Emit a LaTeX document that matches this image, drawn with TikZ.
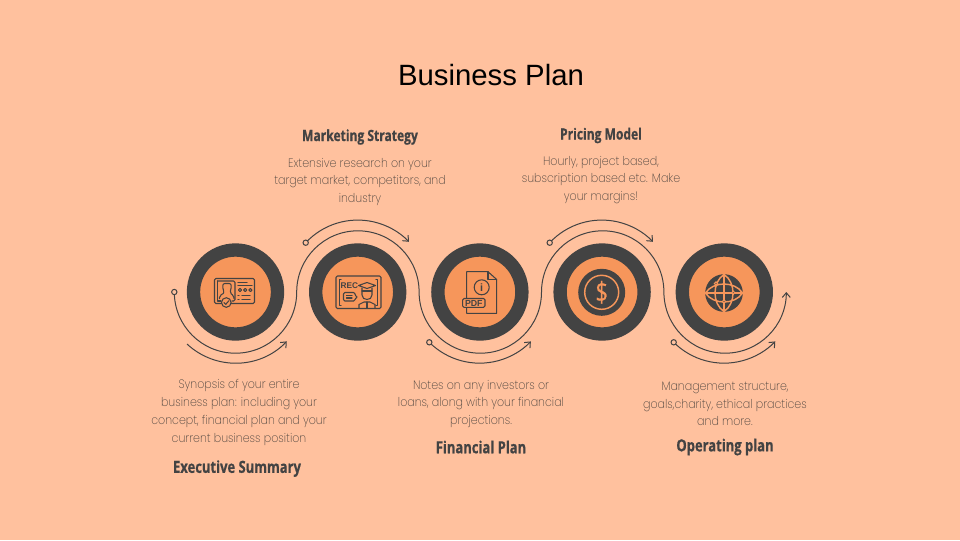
\documentclass[tikz,border=0pt]{standalone}
\usepackage{fontspec}
\setmainfont{Liberation Sans}
\newfontfamily\headfont[FakeStretch=0.78, FakeBold=0.6]{Open Sans}
\newfontfamily\notefont[FakeStretch=0.9]{Poppins ExtraLight}
\usetikzlibrary{arrows.meta, positioning}
\definecolor{peach}{HTML}{FFC19E}
\definecolor{coral}{HTML}{F6965B}
\definecolor{slate}{HTML}{434343}
\definecolor{notegray}{HTML}{4F4640}
\tikzset{x=0.75pt, y=-0.75pt, % one unit is one pixel of the picture, y runs down
  node distance=91.65pt, % Centre to centre of two discs
  stepdisc/.style={ % Dark ring round each step
    circle,
    draw=slate,
    line width=10pt,
    fill=coral,
    inner sep=0pt,
    minimum size=63pt},
  startring/.style={ % Open dot at the start of a line
    circle,
    draw=slate,
    line width=0.75pt,
    fill=peach,
    inner sep=0pt,
    minimum size=4pt},
  flowline/.style={
    draw=slate,
    line width=0.75pt,
    -{Straight Barb[length=3.5pt,width=6pt]}},
  steptitle/.style={text=slate, font=\headfont\bfseries\fontsize{11.6}{14}\selectfont},
  lowtitle/.style={text=slate, font=\headfont\bfseries\fontsize{12.5}{15}\selectfont},
  stepnote/.style={text=notegray, align=center, font=\notefont\fontsize{9.2}{13.3}\selectfont},
  iconline/.style={draw=slate, line width=0.8pt, line join=round, line cap=round},
  globeline/.style={draw=coral, line width=1.1pt},
  globedot/.style={draw=coral, line width=0.8pt, fill=slate}}

\begin{document}
\begin{tikzpicture}
  \fill[peach] (0,0) rectangle (960,540);
  \useasboundingbox (0,0) rectangle (960,540);
  \node[font=\fontsize{22}{26}\selectfont] (title) at (491,75) {Business Plan};

  % Steps
  \node[stepdisc] (c1) at (235.5,292) {};
  \node[stepdisc, right of=c1] (c2) {};
  \node[stepdisc, right of=c2] (c3) {};
  \node[stepdisc, right of=c3] (c4) {};
  \node[stepdisc, right of=c4] (c5) {};

  % Long wave line
  \coordinate (w0) at (174.3,292);
  \draw[flowline] (w0) arc[start angle=180, end angle=360, radius=45.9pt]
    arc[start angle=180, end angle=0, radius=45.9pt]
    arc[start angle=180, end angle=360, radius=45.9pt]
    arc[start angle=180, end angle=0, radius=45.9pt]
    arc[start angle=180, end angle=360, radius=45.9pt];
  \node[startring] (r0) at (w0) {};

  % Short lines
  \coordinate (a1) at (187,344);
  \coordinate (a2) at (305.7,242.7);
  \coordinate (a3) at (429.3,342.3);
  \coordinate (a4) at (549.7,242.7);
  \coordinate (a5) at (673.7,342.3);
  \draw[flowline] (a1) arc[start angle=227, end angle=316, radius=53.4pt];
  \draw[flowline] (a2) arc[start angle=137, end angle=44, radius=53.4pt];
  \draw[flowline] (a3) arc[start angle=225, end angle=316, radius=53.4pt];
  \draw[flowline] (a4) arc[start angle=137, end angle=44, radius=53.4pt];
  \draw[flowline] (a5) arc[start angle=225, end angle=316, radius=53.4pt];
  \node[startring] (r2) at (a2) {};
  \node[startring] (r3) at (a3) {};
  \node[startring] (r4) at (a4) {};
  \node[startring] (r5) at (a5) {};

  % Card icon
  \draw[iconline, rounded corners=1pt] (214.5,278.5) rectangle (254.5,303.5);
  \draw[iconline, rounded corners=1pt] (217.5,281) -- (235,281) -- (235,301) -- (232,301);
  \draw[iconline] (217.5,281) -- (217.5,301) -- (221,301);
  \draw[iconline, rounded corners=1.5pt] (219.5,298.5) -- (219.5,295.5) -- (224.5,293) -- (222.8,289.5)
    -- (222.8,283.5) -- (231.2,283.5) -- (231.2,289.5) -- (229.5,293) -- (234,295.5) -- (234,298.5);
  \draw[iconline, fill=coral] (226.3,302.5) circle (4.8);
  \draw[iconline] (224,302.5) -- (225.8,304.3) -- (228.8,300.8);
  \draw[iconline] (238,282.5) -- (247,282.5) (238,285.7) -- (252,285.7);
  \draw[iconline] (240,290) circle (1.6) (245.2,290) circle (1.6) (250.4,290) circle (1.6);
  \draw[iconline] (238,295.3) -- (239,295.3) (242,295.3) -- (250,295.3);
  \draw[iconline] (238,299.3) -- (239,299.3) (242,299.3) -- (250,299.3);

  % Recording icon
  \draw[iconline, rounded corners=1pt] (336,276) rectangle (381,308.5);
  \draw[iconline] (341,279.5) -- (339.5,279.5) -- (339.5,305.5) -- (341,305.5);
  \draw[iconline] (376,279.5) -- (377.5,279.5) -- (377.5,305.5) -- (376,305.5);
  \node[text=slate, inner sep=0pt, font=\bfseries\fontsize{6.2}{7}\selectfont] (rec) at (349.3,285.3) {REC};
  \draw[iconline, rounded corners=1pt] (343.5,292.5) -- (355,292.5) -- (355,295.5) -- (358,297.5)
    -- (355,298) -- (355,301) -- (343.5,301) -- cycle;
  \draw[iconline] (346.5,295.5) -- (352,295.5) (346.5,298) -- (352,298);
  \draw[iconline, fill=coral] (358.5,285.5) -- (367,282.5) -- (375.5,285.5) -- (367,288.5) -- cycle;
  \draw[iconline] (362,288) -- (362,295) .. controls (362,301) and (372,301) .. (372,295) -- (372,288);
  \draw[iconline] (362,291) -- (372,291);
  \draw[iconline] (359,308) -- (359,304.5) -- (364,302) -- (370,302) -- (375,304.5) -- (375,308);
  \draw[iconline] (367,302) -- (367,308);

  % Pdf icon
  \draw[iconline] (466.7,298) -- (466.7,271.7) -- (488,271.7) -- (496.7,279.5) -- (496.7,313.3)
    -- (466.7,313.3) -- (466.7,307.5);
  \draw[iconline] (488,271.7) -- (488,279.5) -- (496.7,279.5);
  \draw[iconline] (481.7,287.3) circle (7.5);
  \node[text=slate, inner sep=0pt, font=\bfseries\fontsize{8}{8}\selectfont] (info) at (481.7,287.3) {i};
  \draw[iconline, fill=coral, rounded corners=1pt] (462.7,298.5) rectangle (485,307.3);
  \node[text=slate, inner sep=0pt, font=\bfseries\fontsize{6.6}{7}\selectfont] (pdf) at (473.8,303) {PDF};

  % Coin icon
  \fill[slate] (601.7,292.3) circle (23.5);
  \draw[globeline] (601.7,292.3) circle (17);
  \node[text=coral, inner sep=0pt, font=\headfont\fontsize{21}{21}\selectfont] (coin) at (601.7,292.3) {\$};

  % Globe icon
  \fill[slate] (724,293) circle (18.8);
  \draw[globeline] (724,274.5) .. controls (712,282) and (712,304) .. (724,311.5)
    .. controls (736,304) and (736,282) .. (724,274.5);
  \draw[globeline] (705.5,293) .. controls (713,281) and (735,281) .. (742.5,293)
    .. controls (735,305) and (713,305) .. (705.5,293);
  \draw[globeline] (724,274.5) -- (724,311.5) (705.5,293) -- (742.5,293);
  \draw[globedot] (716,283.5) circle (1.6) (733.3,292.7) circle (1.6) (724,301.5) circle (1.6);

  % Texts
  \node[lowtitle] (t1) at (237,468.5) {Executive Summary};
  \node[stepnote] (n1) at (239,412.5) {Synopsis of your entire\\business plan: including your\\concept, financial plan and your\\current business position};
  \node[steptitle] (t2) at (360,137) {Marketing Strategy};
  \node[stepnote] (n2) at (360,182) {Extensive research on your\\target market, competitors, and\\industry};
  \node[lowtitle] (t3) at (481,447) {Financial Plan};
  \node[stepnote] (n3) at (481,404) {Notes on any investors or\\loans, along with your financial\\projections.};
  \node[steptitle] (t4) at (601,135.5) {Pricing Model};
  \node[stepnote] (n4) at (601,180) {Hourly, project based,\\subscription based etc. Make\\your margins!};
  \node[lowtitle] (t5) at (725,447) {Operating plan};
  \node[stepnote] (n5) at (725,404) {Management structure,\\goals,charity, ethical practices\\and more.};
\end{tikzpicture}
\end{document}
